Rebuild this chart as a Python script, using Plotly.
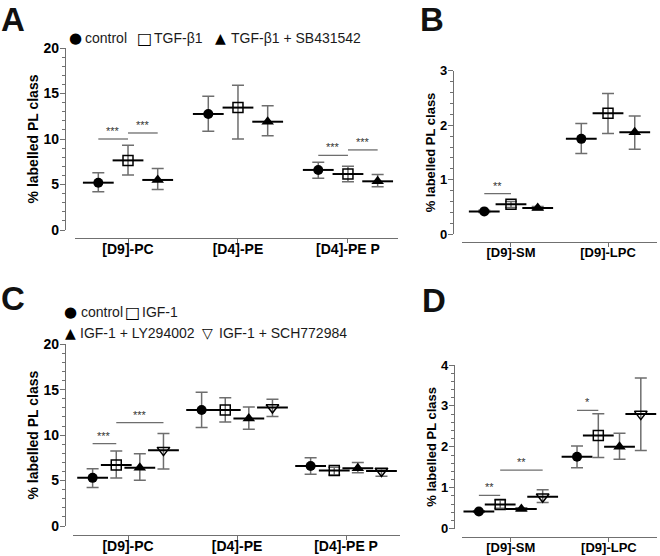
import plotly.graph_objects as go

# ---------------- data ----------------
cats_AC = ["[D9]-PC", "[D4]-PE", "[D4]-PE P"]
cats_BD = ["[D9]-SM", "[D9]-LPC"]

groups_AB = ["control", "TGF-β1", "TGF-β1 + SB431542"]
groups_CD = ["control", "IGF-1", "IGF-1 + LY294002", "IGF-1 + SCH772984"]

# Panel A (mean, upper whisker, lower whisker)
A_control_mean = [5.2, 12.75, 6.6]
A_control_hi = [6.3, 14.7, 7.45]
A_control_lo = [4.2, 10.85, 5.7]
A_tgf_mean = [7.65, 13.45, 6.15]
A_tgf_hi = [9.3, 15.9, 7.0]
A_tgf_lo = [6.05, 10.0, 5.3]
A_sb_mean = [5.5, 11.9, 5.35]
A_sb_hi = [6.75, 13.65, 6.1]
A_sb_lo = [4.45, 10.35, 4.75]

# Panel B
B_control_mean = [0.42, 1.75]
B_control_hi = [0.44, 2.03]
B_control_lo = [0.40, 1.48]
B_tgf_mean = [0.55, 2.22]
B_tgf_hi = [0.60, 2.58]
B_tgf_lo = [0.49, 1.85]
B_sb_mean = [0.48, 1.87]
B_sb_hi = [0.51, 2.17]
B_sb_lo = [0.45, 1.56]

# Panel C
C_control_mean = [5.3, 12.77, 6.6]
C_control_hi = [6.3, 14.72, 7.52]
C_control_lo = [4.25, 10.83, 5.69]
C_igf_mean = [6.72, 12.77, 6.1]
C_igf_hi = [8.26, 14.13, 6.46]
C_igf_lo = [5.28, 11.45, 5.61]
C_ly_mean = [6.42, 11.82, 6.35]
C_ly_hi = [7.96, 13.1, 7.0]
C_ly_lo = [5.03, 10.64, 5.87]
C_sch_mean = [8.35, 13.05, 6.05]
C_sch_hi = [10.17, 13.94, 6.28]
C_sch_lo = [6.28, 12.04, 5.47]

# Panel D
D_control_mean = [0.42, 1.76]
D_control_hi = [0.44, 2.02]
D_control_lo = [0.40, 1.49]
D_igf_mean = [0.59, 2.28]
D_igf_hi = [0.70, 2.81]
D_igf_lo = [0.50, 1.74]
D_ly_mean = [0.48, 2.0]
D_ly_hi = [0.51, 2.33]
D_ly_lo = [0.45, 1.70]
D_sch_mean = [0.78, 2.8]
D_sch_hi = [0.95, 3.68]
D_sch_lo = [0.64, 1.91]

# significance: (category index, group a, group b, y, label)
sig_A = [(0, 0, 1, 10.0, "***"), (0, 1, 2, 10.66, "***"),
         (2, 0, 1, 8.2, "***"), (2, 1, 2, 8.8, "***")]
sig_B = [(0, 0, 1, 0.745, "**")]
sig_C = [(0, 0, 1, 9.06, "***"), (0, 1, 3, 11.38, "***")]
sig_D = [(0, 0, 1, 0.815, "**"), (0, 1, 3, 1.43, "**"), (1, 0, 1, 2.89, "*")]

# legend key glyphs for the groups
glyphs_AB = ["●", "□", "▲"]
glyphs_CD = ["●", "□", "▲", "▽"]

# ---------------- styling ----------------
FONT = "Liberation Sans"
AXC = "#707070"
ERRC = "#6e6e6e"
off3 = [-0.27, 0.0, 0.27]
off4 = [-0.325, -0.108, 0.108, 0.325]

sym3 = [dict(symbol="circle", size=10, color="black"),
        dict(symbol="square-open", size=10, color="black", line=dict(width=1.5, color="black")),
        dict(symbol="triangle-up", size=11, color="black")]
sym4 = [dict(symbol="circle", size=10, color="black"),
        dict(symbol="square-open", size=10, color="black", line=dict(width=1.5, color="black")),
        dict(symbol="triangle-up", size=11, color="black"),
        dict(symbol="triangle-down-open", size=11, color="black", line=dict(width=1.5, color="black"))]

fig = go.Figure()


def add_group(xa, ya, ncat, offset, mean, hi, lo, marker, name):
    xs = [i + offset for i in range(ncat)]
    plus = [h - m for h, m in zip(hi, mean)]
    minus = [m - l for m, l in zip(mean, lo)]
    fig.add_trace(go.Scatter(
        x=xs, y=mean, xaxis=xa, yaxis=ya, mode="markers", showlegend=False,
        hoverinfo="skip",
        marker=dict(symbol="line-ew", size=22, line=dict(width=2, color="black")),
        error_y=dict(type="data", symmetric=False, array=plus, arrayminus=minus,
                     color=ERRC, thickness=1.5, width=6)))
    fig.add_trace(go.Scatter(
        x=xs, y=mean, xaxis=xa, yaxis=ya, mode="markers", name=name,
        marker=marker, showlegend=False))


def add_sig(xa, ya, offsets, sigs):
    for ci, ga, gb, yv, lab in sigs:
        fig.add_trace(go.Scatter(
            x=[ci + offsets[ga], ci + offsets[gb]], y=[yv, yv], xaxis=xa, yaxis=ya,
            mode="lines", line=dict(color=ERRC, width=1.3), showlegend=False,
            hoverinfo="skip"))
        fig.add_annotation(
            x=ci + (offsets[ga] + offsets[gb]) / 2, y=yv, xref=xa, yref=ya,
            text=lab, showarrow=False, yanchor="bottom", yshift=0,
            font=dict(family=FONT, size=11, color="#333"))


# Panel A
A_sets = [(A_control_mean, A_control_hi, A_control_lo),
          (A_tgf_mean, A_tgf_hi, A_tgf_lo),
          (A_sb_mean, A_sb_hi, A_sb_lo)]
for g, (m, h, l) in enumerate(A_sets):
    add_group("x", "y", 3, off3[g], m, h, l, sym3[g], groups_AB[g])
add_sig("x", "y", off3, sig_A)

# Panel B
B_sets = [(B_control_mean, B_control_hi, B_control_lo),
          (B_tgf_mean, B_tgf_hi, B_tgf_lo),
          (B_sb_mean, B_sb_hi, B_sb_lo)]
offB = [o * 1.02 for o in off3]
for g, (m, h, l) in enumerate(B_sets):
    add_group("x2", "y2", 2, offB[g], m, h, l, sym3[g], groups_AB[g])
add_sig("x2", "y2", offB, sig_B)

# Panel C
C_sets = [(C_control_mean, C_control_hi, C_control_lo),
          (C_igf_mean, C_igf_hi, C_igf_lo),
          (C_ly_mean, C_ly_hi, C_ly_lo),
          (C_sch_mean, C_sch_hi, C_sch_lo)]
for g, (m, h, l) in enumerate(C_sets):
    add_group("x3", "y3", 3, off4[g], m, h, l, sym4[g], groups_CD[g])
add_sig("x3", "y3", off4, sig_C)

# Panel D
D_sets = [(D_control_mean, D_control_hi, D_control_lo),
          (D_igf_mean, D_igf_hi, D_igf_lo),
          (D_ly_mean, D_ly_hi, D_ly_lo),
          (D_sch_mean, D_sch_hi, D_sch_lo)]
for g, (m, h, l) in enumerate(D_sets):
    add_group("x4", "y4", 2, off4[g], m, h, l, sym4[g], groups_CD[g])
add_sig("x4", "y4", off4, sig_D)

W, H = 660, 556


def px_x(p):
    return p / W


def px_y(p):
    return (H - p) / H


def xaxis(d0, d1, rng, pos, cats, fs=14, lso=-6):
    return dict(domain=[px_x(d0), px_x(d1)], range=rng, anchor="free", position=px_y(pos),
                automargin=False, ticklabelstandoff=lso,
                tickvals=list(range(len(cats))), ticktext=cats, ticks="outside", ticklen=4,
                tickcolor=AXC, showline=True, linecolor=AXC, linewidth=1.3,
                showgrid=False, zeroline=False,
                tickfont=dict(family=FONT, size=fs, color="black", weight="bold"))


def yaxis(p0, p1, rng, pos, dtick, minor, fs=14, tfs=14, standoff=0):
    return dict(domain=[px_y(p0), px_y(p1)], range=rng, anchor="free", position=px_x(pos),
                automargin=False, ticklabelstandoff=-2,
                dtick=dtick, tick0=0, ticks="outside", ticklen=5, tickcolor=AXC,
                showline=True, linecolor=AXC, linewidth=1.3, showgrid=False, zeroline=False,
                minor=dict(dtick=minor, ticks="outside", ticklen=3, tickcolor=AXC, showgrid=False),
                tickfont=dict(family=FONT, size=fs, color="black", weight="bold"),
                title=dict(text="% labelled PL class", standoff=standoff,
                           font=dict(family=FONT, size=tfs, color="black", weight="bold")))


fig.update_layout(
    width=W, height=H, margin=dict(l=0, r=0, t=0, b=0, autoexpand=False),
    paper_bgcolor="white", plot_bgcolor="white", showlegend=False,
    font=dict(family=FONT, color="black"),
    xaxis=xaxis(75, 398, [-0.482, 2.455], 238, cats_AC),
    yaxis=yaxis(230, 48, [0, 20], 65, 5, 1),
    xaxis2=xaxis(462, 657, [-0.505, 1.505], 241.7, cats_BD, 13, -5),
    yaxis2=yaxis(234.3, 70.7, [0, 3], 453, 1, 0.2, 13, 13, 0),
    xaxis3=xaxis(73, 400, [-0.505, 2.495], 535.3, cats_AC),
    yaxis3=yaxis(526, 344.3, [0, 20], 65, 5, 1),
    xaxis4=xaxis(462, 657, [-0.497, 1.49], 536.7, cats_BD, 13, -5),
    yaxis4=yaxis(528.7, 365, [0, 4], 454, 1, 0.2, 13, 13, 0),
)

# legend keys: glyph + label
glyph_size = {"●": 15, "□": 16, "▲": 14, "▽": 14}


def legend_entry(glyph, xsym, text, xtext, ycen):
    fig.add_annotation(x=px_x(xsym), y=px_y(ycen), xref="paper", yref="paper",
                       text=glyph, showarrow=False, xanchor="center", yanchor="middle",
                       font=dict(family="DejaVu Sans", size=glyph_size[glyph], color="black"))
    fig.add_annotation(x=px_x(xtext), y=px_y(ycen), xref="paper", yref="paper",
                       text=text, showarrow=False, xanchor="left", yanchor="middle",
                       font=dict(family=FONT, size=14, color="#1a1a1a"))


legA = [(75, 83, 38), (144, 152, 38), (220, 229, 38)]
for g, (xs, xt, yc) in enumerate(legA):
    legend_entry(glyphs_AB[g], xs, groups_AB[g], xt, yc)
legC = [(70, 79, 312), (132, 140, 312), (70, 78, 333), (208, 217, 333)]
for g, (xs, xt, yc) in enumerate(legC):
    legend_entry(glyphs_CD[g], xs, groups_CD[g], xt, yc)

for lab, xp, yp in [("A", 0, 0), ("B", 419, 0), ("C", 0, 279), ("D", 421, 281)]:
    fig.add_annotation(x=px_x(xp), y=px_y(yp), xref="paper", yref="paper", text=lab,
                       showarrow=False, xanchor="left", yanchor="top", borderpad=0,
                       font=dict(family=FONT, size=33, color="#111", weight="bold"))

fig.write_html("out.html", config={"displayModeBar": False},
               post_script="document.body.style.margin='0';")
